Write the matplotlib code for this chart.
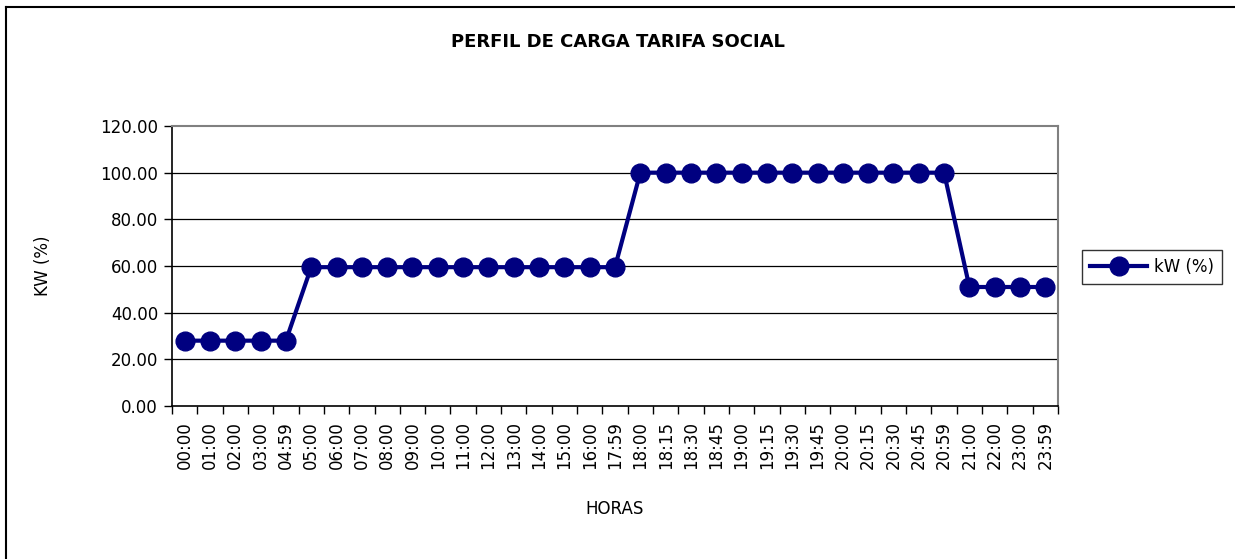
import matplotlib
matplotlib.use('Agg')
import matplotlib.pyplot as plt
from matplotlib.lines import Line2D

# Data
horas = ['00:00', '01:00', '02:00', '03:00', '04:59', '05:00', '06:00', '07:00',
         '08:00', '09:00', '10:00', '11:00', '12:00', '13:00', '14:00', '15:00',
         '16:00', '17:59', '18:00', '18:15', '18:30', '18:45', '19:00', '19:15',
         '19:30', '19:45', '20:00', '20:15', '20:30', '20:45', '20:59', '21:00',
         '22:00', '23:00', '23:59']
kw_pct = [28.0, 28.0, 28.0, 28.0, 28.0,
          59.5, 59.5, 59.5, 59.5, 59.5, 59.5, 59.5, 59.5, 59.5, 59.5, 59.5, 59.5, 59.5,
          100.0, 100.0, 100.0, 100.0, 100.0, 100.0, 100.0, 100.0, 100.0, 100.0, 100.0,
          100.0, 100.0,
          51.0, 51.0, 51.0, 51.0]
y_ticks = [0, 20, 40, 60, 80, 100, 120]

navy = '#000080'

fig = plt.figure(figsize=(12.35, 5.59), dpi=100)
fig.patch.set_facecolor('white')
ax = fig.add_axes([172 / 1235, 1 - 406 / 559, (1058 - 172) / 1235, (406 - 126) / 559])

x = list(range(len(horas)))
ax.plot(x, kw_pct, color=navy, linewidth=3, marker='o', markersize=13.5,
        markerfacecolor=navy, markeredgecolor=navy, label='kW (%)', zorder=3)

# Excel-style category axis: ticks between categories
ax.set_xlim(-0.5, len(horas) - 0.5)
ax.set_xticks([i - 0.5 for i in range(len(horas) + 1)])
ax.set_xticklabels([])
ax.set_xticks(x, minor=True)
ax.set_xticklabels(horas, minor=True, rotation=90, fontsize=12)
ax.tick_params(axis='x', which='major', direction='out', length=6, width=1, color='black')
ax.tick_params(axis='x', which='minor', length=0, pad=11)

ax.set_ylim(0, 120)
ax.set_yticks(y_ticks)
ax.set_yticklabels([f'{v:.2f}' for v in y_ticks], fontsize=12)
ax.tick_params(axis='y', direction='out', length=6, width=1, color='black', pad=4)

for v in y_ticks[1:-1]:
    ax.axhline(v, color='black', linewidth=0.9, zorder=1)

for side in ['top', 'right']:
    ax.spines[side].set_color('#808080')
    ax.spines[side].set_linewidth(1.5)
for side in ['left', 'bottom']:
    ax.spines[side].set_color('black')
    ax.spines[side].set_linewidth(1.2)

ax.set_ylabel('KW (%)', fontsize=12, labelpad=35)
ax.set_xlabel('HORAS', fontsize=12, labelpad=22)
fig.text(0.5, 1 - 42 / 559, 'PERFIL DE CARGA TARIFA SOCIAL', ha='center', va='center',
         fontsize=13, fontweight='bold')

leg = fig.legend(loc='center left', bbox_to_anchor=(1082 / 1235, 1 - 267 / 559),
                 fontsize=12, frameon=True, fancybox=False, borderpad=0.5,
                 handlelength=3.4, handletextpad=0.4, borderaxespad=0)
leg.get_frame().set_edgecolor('black')
leg.get_frame().set_linewidth(1)

# outer chart border (left and top edges visible)
fig.add_artist(Line2D([6 / 1235, 6 / 1235], [0, 1 - 7 / 559], color='black', linewidth=1.5,
                      transform=fig.transFigure))
fig.add_artist(Line2D([6 / 1235, 1], [1 - 7 / 559, 1 - 7 / 559], color='black', linewidth=1.5,
                      transform=fig.transFigure))

fig.savefig('out.png', dpi=100, facecolor='white')
